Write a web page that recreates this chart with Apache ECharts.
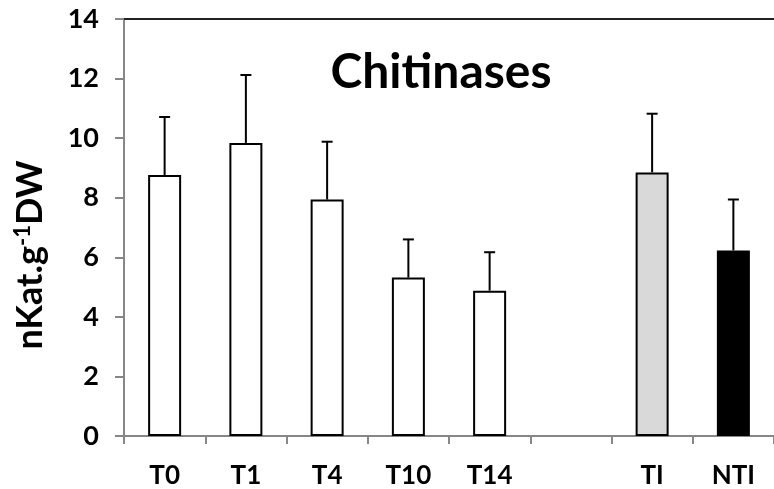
<!DOCTYPE html>
<html>
<head>
<meta charset="utf-8">
<script src="https://cdn.jsdelivr.net/npm/echarts@6/dist/echarts.min.js"></script>
<style>
html,body{margin:0;padding:0;background:#fff;}
#c{width:774px;height:489px;}
</style>
</head>
<body>
<div id="c"></div>
<script>
var categories = ['T0', 'T1', 'T4', 'T10', 'T14', '', 'TI', 'NTI'];
var means = [8.76, 9.84, 7.94, 5.32, 4.88, null, 8.85, 6.23];
var errors = [1.95, 2.28, 1.94, 1.28, 1.29, null, 1.97, 1.71];
var fills = ['#ffffff', '#ffffff', '#ffffff', '#ffffff', '#ffffff', '#ffffff', '#d9d9d9', '#000000'];
var yTicks = [0, 2, 4, 6, 8, 10, 12, 14];

var FONT = 'Lato';
var chart = echarts.init(document.getElementById('c'), null, {renderer: 'canvas'});

var barData = means.map(function (v, i) {
  return {value: v, itemStyle: {color: fills[i]}};
});
var errData = means.map(function (v, i) {
  return v == null ? [i, null, null] : [i, v, v + errors[i]];
});

var option = {
  animation: false,
  backgroundColor: '#ffffff',
  title: {
    text: 'Chitinases',
    left: 436,
    top: 44,
    textAlign: 'center',
    textStyle: {fontFamily: FONT, fontWeight: 'bold', fontSize: 48, color: '#000'}
  },
  graphic: [{
    type: 'text',
    x: 30,
    y: 255,
    rotation: Math.PI / 2,
    style: {
      text: '{a|nKat.g}{s|-1}{a|DW}',
      align: 'center',
      verticalAlign: 'middle',
      rich: {
        a: {fontFamily: FONT, fontWeight: 'bold', fontSize: 36, fill: '#000'},
        s: {fontFamily: FONT, fontWeight: 'bold', fontSize: 22, fill: '#000', verticalAlign: 'top'}
      }
    }
  }],
  grid: {left: 124, top: 19, right: -6, bottom: 52, containLabel: false},
  xAxis: [{
    type: 'category',
    data: categories,
    boundaryGap: true,
    axisLine: {lineStyle: {color: '#878787', width: 2}},
    axisTick: {show: true, alignWithLabel: false, length: 8, lineStyle: {color: '#878787', width: 2}},
    axisLabel: {fontFamily: FONT, fontWeight: 'bold', fontSize: 26, color: '#000', margin: 27, interval: 0}
  }, {
    type: 'category',
    data: categories,
    position: 'top',
    axisLine: {lineStyle: {color: '#222', width: 2}},
    axisTick: {show: false},
    axisLabel: {show: false}
  }],
  yAxis: {
    type: 'value',
    min: 0,
    max: 14,
    interval: 2,
    splitLine: {show: false},
    axisLine: {show: true, lineStyle: {color: '#878787', width: 2}},
    axisTick: {show: true, length: 9, lineStyle: {color: '#878787', width: 2}},
    axisLabel: {fontFamily: FONT, fontWeight: 'bold', fontSize: 27, color: '#000', margin: 25,
      formatter: function (v) { return yTicks.indexOf(v) >= 0 ? String(v) : ''; }}
  },
  series: [{
    type: 'bar',
    data: barData,
    barWidth: 33,
    itemStyle: {borderColor: '#000', borderWidth: 2},
    z: 2
  }, {
    type: 'custom',
    data: errData,
    z: 3,
    renderItem: function (params, api) {
      var lo = api.value(1), hi = api.value(2);
      if (lo == null || isNaN(lo)) return null;
      var p0 = api.coord([api.value(0), lo]);
      var p1 = api.coord([api.value(0), hi]);
      var half = 5.5;
      var st = {stroke: '#000', lineWidth: 2};
      return {
        type: 'group',
        children: [
          {type: 'line', shape: {x1: p0[0], y1: p0[1], x2: p1[0], y2: p1[1]}, style: st},
          {type: 'line', shape: {x1: p1[0] - half, y1: p1[1], x2: p1[0] + half, y2: p1[1]}, style: st}
        ]
      };
    }
  }]
};
chart.setOption(option);
</script>
</body>
</html>
